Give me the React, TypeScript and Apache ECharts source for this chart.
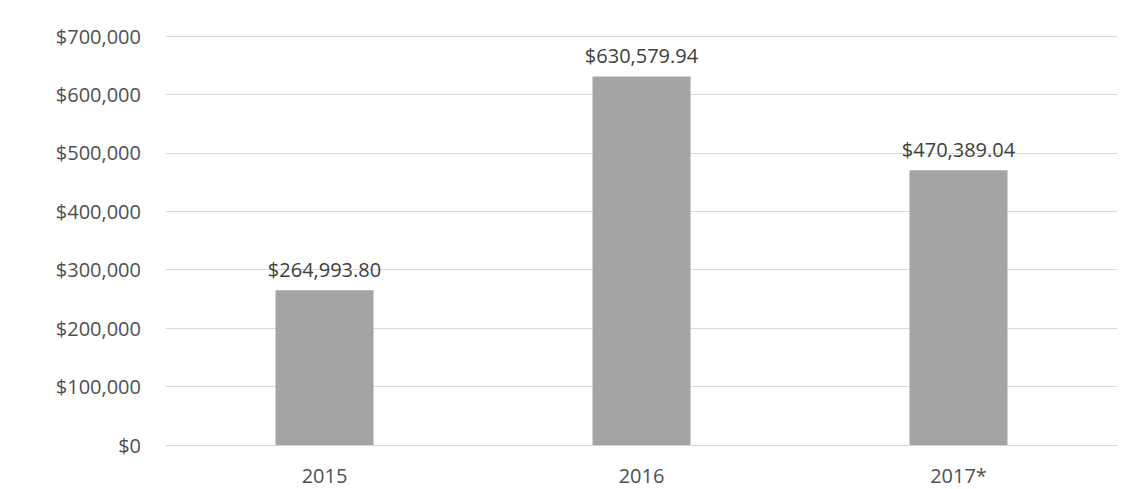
import React, { useEffect, useRef } from "react";
import * as echarts from "echarts";

const categories = ["2015", "2016", "2017*"];
const values = [264993.8, 630579.94, 470389.04];
const yTicks = [0, 100000, 200000, 300000, 400000, 500000, 600000, 700000];

const fmtMoney = (v: number) =>
  "$" + v.toLocaleString("en-US", { minimumFractionDigits: 2, maximumFractionDigits: 2 });
const fmtAxis = (v: number) => "$" + v.toLocaleString("en-US");

export default function App() {
  const ref = useRef<HTMLDivElement>(null);
  useEffect(() => {
    if (!ref.current) return;
    const chart = echarts.init(ref.current, undefined, { renderer: "svg" });
    const font = "'Open Sans', sans-serif";
    chart.setOption({
      animation: false,
      backgroundColor: "#ffffff",
      grid: { left: 166, right: 6, top: 36, bottom: 44, containLabel: false },
      xAxis: {
        type: "category",
        data: categories,
        axisLine: { show: true, lineStyle: { color: "#d4d4d4", width: 1 } },
        axisTick: { show: false },
        axisLabel: { color: "#505050", fontSize: 20, fontFamily: font, margin: 20 },
      },
      yAxis: {
        type: "value",
        min: yTicks[0],
        max: yTicks[yTicks.length - 1],
        interval: 100000,
        axisLine: { show: false },
        axisTick: { show: false },
        splitLine: { lineStyle: { color: "#d9d9d9", width: 1 } },
        axisLabel: {
          color: "#505050",
          fontSize: 20,
          fontFamily: font,
          margin: 25,
          formatter: (v: number) => fmtAxis(v),
        },
      },
      series: [
        {
          type: "bar",
          data: values,
          barWidth: 98,
          itemStyle: { color: "#a4a4a4" },
          label: {
            show: true,
            position: "top",
            distance: 11,
            color: "#404040",
            fontSize: 20,
            fontFamily: font,
            formatter: (p: any) => fmtMoney(p.value),
          },
        },
      ],
    });
    return () => chart.dispose();
  }, []);
  return <div ref={ref} style={{ width: 1123, height: 489, position: "absolute", left: 0, top: 0 }} />;
}
